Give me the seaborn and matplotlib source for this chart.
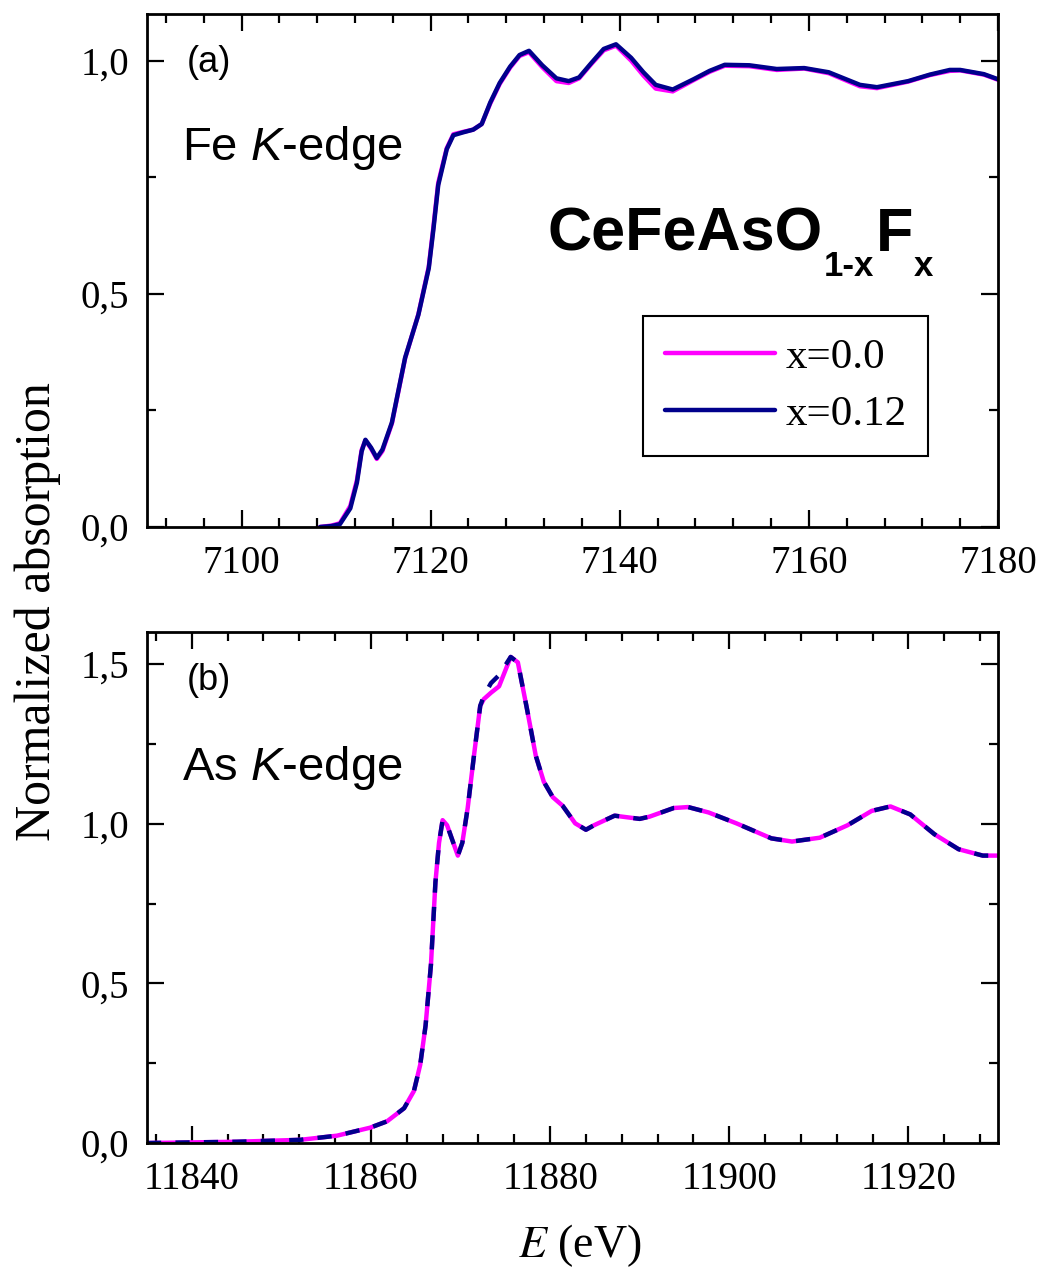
import matplotlib
matplotlib.use("Agg")
import matplotlib.pyplot as plt
from matplotlib.ticker import MultipleLocator, FuncFormatter
import pandas as pd
import seaborn as sns

# ---- Fe K-edge XANES, CeFeAsO(1-x)F(x) ----
fe_energy = [7108.3, 7109.5, 7110.4, 7111.5, 7112.2, 7112.7, 7113.1, 7113.7,
             7114.3, 7114.9, 7115.9, 7117.3, 7118.7, 7119.8, 7120.3, 7120.8,
             7121.7, 7122.4, 7123.4, 7124.5, 7125.4, 7126.3, 7127.3, 7128.4,
             7129.4, 7130.4, 7131.8, 7133.3, 7134.6, 7135.7, 7137.0, 7138.3,
             7139.6, 7141.2, 7142.5, 7143.8, 7145.6, 7147.8, 7149.5, 7151.1,
             7153.7, 7156.6, 7159.5, 7162.1, 7165.4, 7167.2, 7170.5, 7172.8,
             7174.9, 7176.0, 7178.5, 7180.0]
fe_x000 = [0.000, 0.003, 0.008, 0.045, 0.100, 0.165, 0.186, 0.168,
           0.146, 0.163, 0.222, 0.362, 0.456, 0.558, 0.645, 0.738,
           0.812, 0.842, 0.847, 0.852, 0.864, 0.908, 0.950, 0.985,
           1.010, 1.018, 0.986, 0.956, 0.952, 0.962, 0.993, 1.022,
           1.032, 1.000, 0.968, 0.940, 0.934, 0.958, 0.976, 0.989,
           0.988, 0.980, 0.983, 0.973, 0.945, 0.941, 0.955, 0.969,
           0.978, 0.979, 0.970, 0.959]
fe_x012 = [0.000, 0.002, 0.006, 0.040, 0.095, 0.162, 0.187, 0.170,
           0.148, 0.166, 0.224, 0.363, 0.455, 0.555, 0.640, 0.733,
           0.810, 0.840, 0.846, 0.852, 0.864, 0.910, 0.952, 0.987,
           1.012, 1.021, 0.990, 0.962, 0.956, 0.964, 0.995, 1.025,
           1.035, 1.006, 0.975, 0.948, 0.938, 0.960, 0.978, 0.991,
           0.990, 0.982, 0.984, 0.975, 0.948, 0.943, 0.956, 0.970,
           0.980, 0.980, 0.971, 0.960]

# ---- As K-edge XANES ----
as_energy = [11835.0, 11840.0, 11845.0, 11852.1, 11856.2, 11859.9, 11861.8,
             11863.7, 11864.8, 11865.5, 11866.1, 11866.7, 11867.2, 11867.6,
             11868.0, 11868.5, 11869.7, 11870.2, 11870.8, 11871.5, 11872.2,
             11872.6, 11873.4, 11874.3, 11875.6, 11876.4, 11877.4, 11878.4,
             11879.3, 11880.3, 11881.4, 11882.8, 11884.0, 11884.9, 11887.2,
             11890.0, 11891.1, 11893.8, 11895.4, 11897.7, 11900.8, 11904.7,
             11907.0, 11910.1, 11913.2, 11915.9, 11918.0, 11920.2, 11922.9,
             11925.6, 11928.3, 11930.0]
as_x000 = [0.000, 0.002, 0.004, 0.010, 0.023, 0.048, 0.068,
           0.109, 0.163, 0.245, 0.368, 0.559, 0.817, 0.940,
           1.011, 0.995, 0.900, 0.940, 1.049, 1.213, 1.369,
           1.390, 1.410, 1.430, 1.522, 1.505, 1.362, 1.213,
           1.131, 1.083, 1.056, 1.001, 0.981, 0.995, 1.025,
           1.015, 1.022, 1.049, 1.052, 1.035, 1.001, 0.954,
           0.944, 0.956, 0.995, 1.040, 1.054, 1.029, 0.967,
           0.920, 0.900, 0.900]
as_x012 = [0.000, 0.002, 0.004, 0.010, 0.023, 0.048, 0.068,
           0.109, 0.163, 0.245, 0.368, 0.559, 0.817, 0.940,
           1.011, 0.995, 0.900, 0.940, 1.049, 1.213, 1.369,
           1.400, 1.440, 1.465, 1.522, 1.505, 1.362, 1.213,
           1.131, 1.083, 1.056, 1.001, 0.981, 0.995, 1.025,
           1.015, 1.022, 1.049, 1.052, 1.035, 1.001, 0.954,
           0.944, 0.956, 0.995, 1.040, 1.054, 1.029, 0.967,
           0.920, 0.900, 0.900]

series_labels = ["x=0.0", "x=0.12"]
series_colors = ["#FF00FF", "#00008C"]

sns.set_style("ticks")
plt.rcParams["font.family"] = ["Liberation Serif", "DejaVu Serif"]
plt.rcParams["text.color"] = "black"
plt.rcParams["axes.labelcolor"] = "black"
plt.rcParams["xtick.color"] = "black"
plt.rcParams["ytick.color"] = "black"
plt.rcParams["mathtext.fontset"] = "custom"
plt.rcParams["mathtext.rm"] = "Liberation Sans"
plt.rcParams["mathtext.it"] = "Liberation Sans:italic"
plt.rcParams["mathtext.bf"] = "Liberation Sans:bold"

fig = plt.figure(figsize=(10.41, 12.81), dpi=100)
ax1 = fig.add_axes([0.1412, 0.5886, 0.8175, 0.4005])
ax2 = fig.add_axes([0.1412, 0.1077, 0.8175, 0.3989])

fe = pd.DataFrame({"E": fe_energy, "x0": fe_x000, "x12": fe_x012})
asd = pd.DataFrame({"E": as_energy, "x0": as_x000, "x12": as_x012})

LW = 3.2
sns.lineplot(data=fe, x="E", y="x0", ax=ax1, color=series_colors[0], lw=LW,
             label=series_labels[0], sort=False)
sns.lineplot(data=fe, x="E", y="x12", ax=ax1, color=series_colors[1], lw=LW,
             label=series_labels[1], sort=False)

sns.lineplot(data=asd, x="E", y="x0", ax=ax2, color=series_colors[0], lw=LW,
             sort=False)
sns.lineplot(data=asd, x="E", y="x12", ax=ax2, color=series_colors[1], lw=LW,
             sort=False, linestyle="--")
ax2.lines[-1].set_dashes([3.2, 3.2])

comma = FuncFormatter(lambda v, p: f"{v:.1f}".replace(".", ","))

for ax in (ax1, ax2):
    ax.xaxis.set_major_locator(MultipleLocator(20))
    ax.xaxis.set_minor_locator(MultipleLocator(4))
    ax.yaxis.set_major_locator(MultipleLocator(0.5))
    ax.yaxis.set_minor_locator(MultipleLocator(0.25))
    ax.yaxis.set_major_formatter(comma)
    ax.tick_params(which="both", direction="in", top=True, right=True,
                   width=1.6, color="black", labelcolor="black")
    ax.tick_params(which="major", length=12.5, labelsize=28, pad=13)
    ax.tick_params(which="minor", length=6.5)
    for s in ax.spines.values():
        s.set_linewidth(2.0)
        s.set_color("black")
    ax.set_xlabel("")
    ax.set_ylabel("")

ax1.set_xlim(7090, 7180)
ax1.set_ylim(0, 1.1)
ax2.set_xlim(11835, 11930)
ax2.set_ylim(0, 1.6)

sans = ["Liberation Sans", "DejaVu Sans"]
ax1.text(0.047, 0.906, "(a)", transform=ax1.transAxes, fontsize=26,
         family=sans, va="center", ha="left")
ax1.text(0.041, 0.716, r"Fe $K$-edge", transform=ax1.transAxes, fontsize=34,
         family=sans, va="baseline", ha="left")
ax2.text(0.047, 0.906, "(b)", transform=ax2.transAxes, fontsize=26,
         family=sans, va="center", ha="left")
ax2.text(0.041, 0.710, r"As $K$-edge", transform=ax2.transAxes, fontsize=34,
         family=sans, va="baseline", ha="left")

# Chemical formula, built piece by piece with lowered subscripts
renderer = fig.canvas.get_renderer()
inv = ax1.transAxes.inverted()
x_pos = 0.471
main_y, sub_y = 0.538, 0.489
for piece, size, yy in [("CeFeAsO", 44, main_y), ("1-x", 25, sub_y),
                        ("F", 44, main_y), ("x", 25, sub_y)]:
    t = ax1.text(x_pos, yy, piece, transform=ax1.transAxes, fontsize=size,
                 family=sans, fontweight="bold", va="baseline", ha="left")
    bb = t.get_window_extent(renderer)
    x_pos = inv.transform((bb.x1 + 1, bb.y0))[0]

leg = ax1.legend(loc="upper right", bbox_to_anchor=(0.918, 0.411),
                 borderaxespad=0, frameon=True, fancybox=False,
                 edgecolor="black", framealpha=1, fontsize=31,
                 handlelength=2.55, handletextpad=0.25, labelspacing=0.43,
                 borderpad=0.5)
leg.get_frame().set_linewidth(1.5)

ax2.set_xlabel(r"$E$ (eV)", fontsize=33, math_fontfamily="stix")
ax2.xaxis.set_label_coords(0.509, -0.155)
fig.text(0.036, 1 - 612 / 1281, "Normalized absorption", rotation=90,
         fontsize=36, ha="center", va="center")

fig.savefig("out.png", dpi=100)
